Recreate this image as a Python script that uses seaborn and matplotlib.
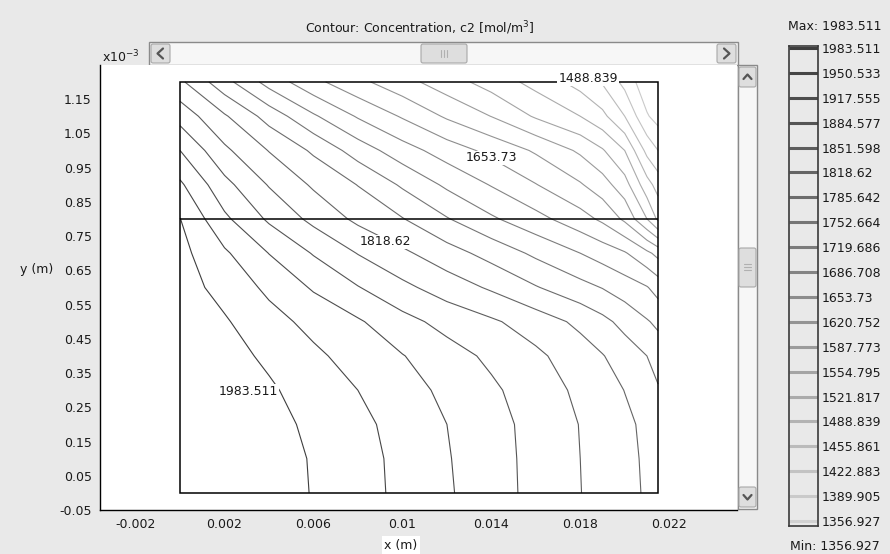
import numpy as np
import matplotlib
matplotlib.use("Agg")
import matplotlib.pyplot as plt
from matplotlib.patches import Rectangle, FancyBboxPatch
import seaborn as sns

# c2 [mol/m^3] on a coarse grid (x in m, y in 1e-3 m)
x_grid = [0.0, 0.002, 0.004, 0.006, 0.008, 0.010, 0.012, 0.014, 0.016, 0.018, 0.019, 0.020, 0.021, 0.0215]
y_grid = [0.0, 0.1, 0.2, 0.3, 0.4, 0.5, 0.6, 0.7, 0.8, 0.9, 1.0, 1.1, 1.2]
c2_rows = [
    [2023.1, 2011.5, 1998.3, 1981.9, 1962.7, 1943.3, 1921.5, 1898.8, 1875.0, 1852.3, 1840.1, 1827.5, 1815.3, 1809.4],
    [2021.4, 2009.9, 1996.7, 1981.2, 1962.1, 1942.3, 1919.9, 1897.8, 1874.7, 1851.6, 1839.4, 1826.5, 1814.3, 1808.7],
    [2016.5, 2004.3, 1992.1, 1978.2, 1958.8, 1939.0, 1917.6, 1896.4, 1873.7, 1850.6, 1838.1, 1825.2, 1812.0, 1806.1],
    [2011.5, 1999.3, 1987.5, 1970.6, 1950.5, 1930.7, 1910.3, 1890.2, 1868.1, 1845.0, 1831.8, 1818.0, 1798.8, 1788.9],
    [2008.2, 1994.1, 1978.2, 1957.1, 1937.3, 1918.9, 1898.1, 1878.0, 1858.2, 1833.8, 1820.3, 1802.8, 1785.6, 1770.5],
    [2003.3, 1986.8, 1962.7, 1940.6, 1921.5, 1895.5, 1873.7, 1856.5, 1835.8, 1811.0, 1794.5, 1775.4, 1755.3, 1746.1],
    [1996.7, 1973.0, 1943.3, 1913.9, 1886.2, 1859.5, 1836.1, 1814.0, 1787.9, 1763.5, 1751.3, 1736.2, 1721.7, 1706.5],
    [1993.4, 1955.5, 1916.9, 1882.3, 1850.3, 1824.9, 1799.5, 1773.8, 1746.1, 1719.7, 1705.2, 1690.0, 1661.3, 1643.8],
    [1984.2, 1924.1, 1879.3, 1842.7, 1811.4, 1787.3, 1755.0, 1724.6, 1697.6, 1666.9, 1647.1, 1614.2, 1554.8, 1515.2],
    [1956.1, 1894.5, 1849.3, 1814.0, 1784.6, 1748.0, 1713.7, 1684.7, 1655.0, 1624.0, 1602.0, 1568.3, 1502.0, 1475.6],
    [1917.6, 1858.2, 1817.3, 1780.4, 1737.5, 1701.2, 1671.2, 1644.5, 1616.5, 1582.2, 1558.1, 1521.8, 1446.0, 1422.9],
    [1872.0, 1822.6, 1772.8, 1724.3, 1683.4, 1650.4, 1616.1, 1587.1, 1550.8, 1521.8, 1497.7, 1455.9, 1393.2, 1376.7],
    [1825.2, 1764.2, 1707.2, 1663.0, 1629.3, 1599.6, 1570.0, 1540.9, 1510.9, 1476.3, 1452.6, 1412.7, 1366.8, 1357.6],
]

levels = [1356.927, 1389.905, 1422.883, 1455.861, 1488.839, 1521.817, 1554.795,
          1587.773, 1620.752, 1653.73, 1686.708, 1719.686, 1752.664, 1785.642,
          1818.62, 1851.598, 1884.577, 1917.555, 1950.533, 1983.511]
c2_min, c2_max = 1356.927, 1983.511

label_levels = [1983.511, 1818.62, 1653.73, 1488.839]
label_x = [0.00306, 0.00922, 0.01399, 0.01835]
label_y = [0.295, 0.733, 0.978, 1.21]

domain_x = [0.0, 0.0215]
layer_y = [0.0, 0.8, 1.2]

x_ticks = [-0.002, 0.002, 0.006, 0.01, 0.014, 0.018, 0.022]
x_tick_labels = ["-0.002", "0.002", "0.006", "0.01", "0.014", "0.018", "0.022"]
y_ticks = [-0.05, 0.05, 0.15, 0.25, 0.35, 0.45, 0.55, 0.65, 0.75, 0.85, 0.95, 1.05, 1.15]
y_tick_labels = ["-0.05", "0.05", "0.15", "0.25", "0.35", "0.45", "0.55",
                 "0.65", "0.75", "0.85", "0.95", "1.05", "1.15"]

sns.set_theme(style="white")
plt.rcParams["font.family"] = ["DejaVu Sans"]
plt.rcParams["font.size"] = 9
plt.rcParams["text.color"] = "#1a1a1a"

W, H = 890, 554
BG = "#e9e9e9"
fig = plt.figure(figsize=(W / 100, H / 100), dpi=100, facecolor=BG)


def px_axes(x0, y0, x1, y1, **kw):
    # axes placed by screen pixels (top-left origin)
    return fig.add_axes([x0 / W, 1 - y1 / H, (x1 - x0) / W, (y1 - y0) / H], **kw)


# window chrome: scroll bars
ui = px_axes(0, 0, W, H)
ui.set_xlim(0, W)
ui.set_ylim(H, 0)
ui.axis("off")


def button(x0, y0, w, h):
    ui.add_patch(FancyBboxPatch((x0, y0), w, h, boxstyle="round,pad=0,rounding_size=2",
                                fc="#dedede", ec="#a8a8a8", lw=0.8))


ui.add_patch(Rectangle((149, 42), 589, 23, fc="#f7f7f7", ec="#8a8a8a", lw=1))
button(151, 44, 19, 19)
button(717, 44, 19, 19)
button(421, 44, 46, 19)
ui.plot([163, 157.5, 163], [48.5, 53.5, 58.5], color="#555555", lw=1.6)
ui.plot([724, 729.5, 724], [48.5, 53.5, 58.5], color="#555555", lw=1.6)
for gx in (441, 444, 447):
    ui.plot([gx, gx], [50, 57], color="#b0b0b0", lw=0.8)

ui.add_patch(Rectangle((738, 65), 19, 444, fc="#f7f7f7", ec="#8a8a8a", lw=1))
button(739, 67, 17, 20)
button(739, 487, 17, 20)
button(739, 248, 17, 39)
ui.plot([743.5, 747.5, 751.5], [79, 74.5, 79], color="#555555", lw=1.6)
ui.plot([743.5, 747.5, 751.5], [495, 499.5, 495], color="#555555", lw=1.6)
for gy in (264, 267, 270):
    ui.plot([744, 751], [gy, gy], color="#b0b0b0", lw=0.8)

# main plot
ax = px_axes(100, 65, 737, 510)
ax.set_facecolor("white")
line_colors = sns.blend_palette(["#d2d2d2", "#3e3e3e"], n_colors=len(levels))
X, Y = np.meshgrid(x_grid, y_grid)
ax.contour(X, Y, np.array(c2_rows), levels=levels, colors=line_colors, linewidths=0.8)

ax.add_patch(Rectangle((domain_x[0], layer_y[0]), domain_x[1] - domain_x[0],
                       layer_y[-1] - layer_y[0], fill=False, ec="black", lw=1.1, zorder=4))
ax.hlines(layer_y[1], domain_x[0], domain_x[1], color="black", lw=1.1, zorder=4)

for lv, lx, ly in zip(label_levels, label_x, label_y):
    ax.text(lx, ly, str(lv), ha="center", va="center", fontsize=9, zorder=5,
            bbox=dict(fc="white", ec="none", pad=0.6))

ax.set_xlim(-0.0036, 0.02505)
ax.set_ylim(-0.0496, 1.2496)
ax.set_xticks(x_ticks, x_tick_labels)
ax.set_yticks(y_ticks, y_tick_labels)
ax.tick_params(length=0, pad=6, labelsize=9, colors="#1a1a1a")
for side in ("top", "right"):
    ax.spines[side].set_visible(False)
for side in ("left", "bottom"):
    ax.spines[side].set_color("black")
    ax.spines[side].set_linewidth(1.0)

fig.text(420 / W, 1 - 28 / H, "Contour: Concentration, c2 [mol/m$^3$]", ha="center", va="center", fontsize=9)
fig.text(102 / W, 1 - 57 / H, "x10$^{-3}$", ha="left", va="center", fontsize=9)
fig.text(20 / W, 1 - 270 / H, "y (m)", ha="left", va="center", fontsize=9)
fig.text(401 / W, 1 - 545 / H, "x (m)", ha="center", va="center", fontsize=9,
         bbox=dict(fc="white", ec="none", pad=1.5))

# level legend
leg = px_axes(789, 46, 818, 526)
leg.set_facecolor(BG)
leg.hlines(levels, 0, 1, colors=line_colors, lw=2.2)
leg.set_xlim(0, 1)
leg.set_ylim(1350.3, 1986.2)
leg.set_xticks([])
leg.set_yticks(levels, [str(v) for v in levels])
leg.yaxis.tick_right()
leg.tick_params(axis="y", length=0, pad=3, labelsize=9, colors="#1a1a1a")
for sp in leg.spines.values():
    sp.set_color("#3a3a3a")
    sp.set_linewidth(1.2)

fig.text(835 / W, 1 - 26 / H, f"Max: {c2_max}", ha="center", va="center", fontsize=9)
fig.text(835 / W, 1 - 546 / H, f"Min: {c2_min}", ha="center", va="center", fontsize=9)

fig.savefig("out.png", dpi=100, facecolor=BG)
